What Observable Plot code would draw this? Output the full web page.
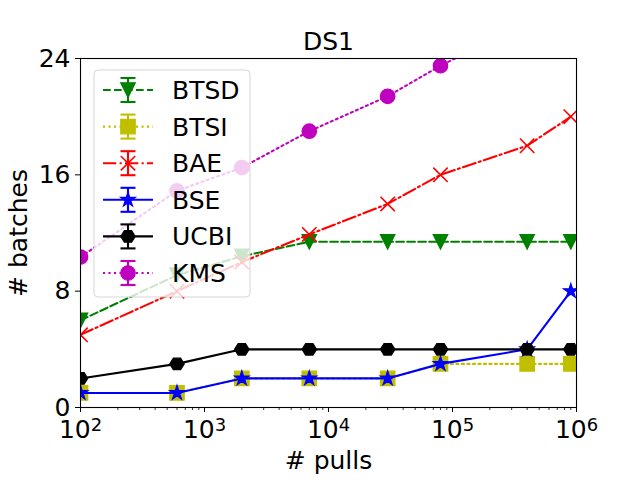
<!DOCTYPE html>
<html><head><meta charset="utf-8">
<script src="https://cdn.jsdelivr.net/npm/d3@7"></script>
<script src="https://cdn.jsdelivr.net/npm/@observablehq/plot@0.6"></script>
<style>body{margin:0;background:#fff} svg{display:block}</style>
</head><body><div id="chart"></div>
<script>
// ---- data ----
const pulls = [100, 600, 2000, 7000, 30000, 80000, 400000, 900000];
const BTSD = [6, 9.1, 10.4, 11.4, 11.4, 11.4, 11.4, 11.4];
const BTSI = [1, 1, 2, 2, 2, 3, 3, 3];
const BAE  = [5, 8, 10, 11.9, 14, 16, 18, 20];
const BSE  = [1, 1, 2, 2, 2, 3, 4, 8];
const UCBI = [2, 3, 4, 4, 4, 4, 4, 4];
const KMS  = [10.35, 14.9, 16.5, 19.0, 21.4, 23.5, 26.5, 28];
const seriesNames = ["BTSD", "BTSI", "BAE", "BSE", "UCBI", "KMS"];
const seriesValues = [BTSD, BTSI, BAE, BSE, UCBI, KMS];
const xTicks = [1e2, 1e3, 1e4, 1e5, 1e6];
const yTicks = [0, 8, 16, 24];
const title = "DS1";
const xLabel = "# pulls";
const yLabel = "# batches";

const FS = 25;

// ---- custom symbols (matplotlib-like) ----
const R = s => Math.sqrt(s / Math.PI);
const symTriDown = {draw(c, s){const r=R(s); c.moveTo(0,r); c.lineTo(-r,-r); c.lineTo(r,-r); c.closePath();}};
const symSquare = {draw(c, s){const r=R(s); c.rect(-r,-r,2*r,2*r);}};
const symX = {draw(c, s){const r=R(s); c.moveTo(-r,-r); c.lineTo(r,r); c.moveTo(-r,r); c.lineTo(r,-r);}};
const symStar = {draw(c, s){const r=R(s)*1.05, ri=r*0.381966;
  for(let i=0;i<10;i++){const a=-Math.PI/2+i*Math.PI/5, rr=i%2?ri:r;
    const x=rr*Math.cos(a), y=rr*Math.sin(a); i?c.lineTo(x,y):c.moveTo(x,y);} c.closePath();}};
const symHex = {draw(c, s){const r=R(s);
  for(let i=0;i<6;i++){const a=i*Math.PI/3; const x=r*Math.cos(a), y=r*Math.sin(a)*0.92; i?c.lineTo(x,y):c.moveTo(x,y);} c.closePath();}};
const symCircle = {draw(c, s){const r=R(s); c.moveTo(r,0); c.arc(0,0,r,0,2*Math.PI);}};

const styles = [
  {color:"#008000", dash:"7.7,3.3", sym:symTriDown, filled:true},
  {color:"#bfbf00", dash:"2.1,3.4", sym:symSquare, filled:true},
  {color:"#ff0000", dash:"13.3,3.3,2.1,3.3", sym:symX, filled:false},
  {color:"#0000ff", dash:null, sym:symStar, filled:true},
  {color:"#000000", dash:null, sym:symHex, filled:true},
  {color:"#bf00bf", dash:"2.1,3.4", sym:symCircle, filled:true}
];
const MR = 7.2;

const marks = [];
seriesNames.forEach((name, k) => {
  const st = styles[k];
  const rows = pulls.map((p, i) => ({pulls: p, batches: seriesValues[k][i]}));
  marks.push(Plot.line(rows, {x: "pulls", y: "batches", stroke: st.color, strokeWidth: 2.1,
    strokeDasharray: st.dash || undefined, clip: true}));
  marks.push(Plot.dot(rows, {x: "pulls", y: "batches", symbol: st.sym, r: MR,
    fill: st.filled ? st.color : "none", stroke: st.color, strokeWidth: st.filled ? 1.3 : 1.6, clip: true}));
});

const minors = [];
for (let e = 2; e < 6; e++) for (let m = 2; m <= 9; m++) minors.push(m * Math.pow(10, e));

const plot = Plot.plot({
  width: 640, height: 480,
  marginLeft: 80, marginRight: 64, marginTop: 58, marginBottom: 73,
  style: {fontFamily: "DejaVu Sans", background: "#fff"},
  x: {type: "log", domain: [100, 1e6]},
  y: {domain: [0, 24]},
  marks: [
    ...marks,
    Plot.frame({stroke: "black", strokeWidth: 1.1}),
    Plot.axisX({ticks: minors, tickSize: 3, tickFormat: () => "", strokeWidth: 0.8, label: null}),
    Plot.axisX({ticks: xTicks, tickSize: 5, tickPadding: 8, fontSize: FS, strokeWidth: 1,
      tickFormat: d => "10^" + Math.round(Math.log10(d)), label: null}),
    Plot.axisY({ticks: yTicks, tickSize: 5, tickPadding: 5, fontSize: FS, strokeWidth: 1,
      label: null}),
    Plot.text([xLabel], {frameAnchor: "bottom", dy: 53, lineAnchor: "middle", fontSize: FS, fill: "black"}),
    Plot.text([yLabel], {frameAnchor: "left", dx: -62, lineAnchor: "middle", textAnchor: "middle",
      rotate: -90, fontSize: FS, fill: "black"}),
    Plot.text([title], {frameAnchor: "top", dy: -17, lineAnchor: "middle", fontSize: FS, fill: "black"})
  ]
});

// superscripts in tick labels
d3.select(plot).selectAll("text").each(function() {
  const t = this.textContent, m = /^10\^(\d)$/.exec(t);
  if (m) {
    const sel = d3.select(this);
    sel.text("10");
    sel.append("tspan").attr("dy", "-0.42em").attr("font-size", "0.72em").text(m[1]);
  }
});

// legend
const svg = d3.select(plot);
const lg = svg.append("g");
lg.append("rect").attr("x", 94).attr("y", 70).attr("width", 156).attr("height", 227)
  .attr("rx", 4).attr("fill", "white").attr("fill-opacity", 0.8)
  .attr("stroke", "#cccccc").attr("stroke-opacity", 0.8).attr("stroke-width", 1);
seriesNames.forEach((name, k) => {
  const st = styles[k];
  const y = 90 + k * 36.6;
  const g = lg.append("g");
  g.append("line").attr("x1", 103).attr("x2", 153).attr("y1", y).attr("y2", y)
    .attr("stroke", st.color).attr("stroke-width", 2.1)
    .attr("stroke-dasharray", st.dash || null);
  g.append("line").attr("x1", 128).attr("x2", 128).attr("y1", y - 12).attr("y2", y + 12)
    .attr("stroke", st.color).attr("stroke-width", 2.1);
  [y - 12, y + 12].forEach(yy => g.append("line").attr("x1", 120.5).attr("x2", 135.5)
    .attr("y1", yy).attr("y2", yy).attr("stroke", st.color).attr("stroke-width", 2.1));
  g.append("path").attr("transform", `translate(128,${y})`)
    .attr("d", d3.symbol(st.sym, MR * MR * Math.PI)())
    .attr("fill", st.filled ? st.color : "none").attr("stroke", st.color)
    .attr("stroke-width", st.filled ? 1.3 : 1.6);
  g.append("text").attr("x", 172).attr("y", y).attr("dy", "0.36em")
    .attr("text-anchor", "start")
    .attr("font-size", FS).attr("font-family", "DejaVu Sans").attr("fill", "black").text(name);
});

document.getElementById("chart").appendChild(plot);
</script></body></html>
